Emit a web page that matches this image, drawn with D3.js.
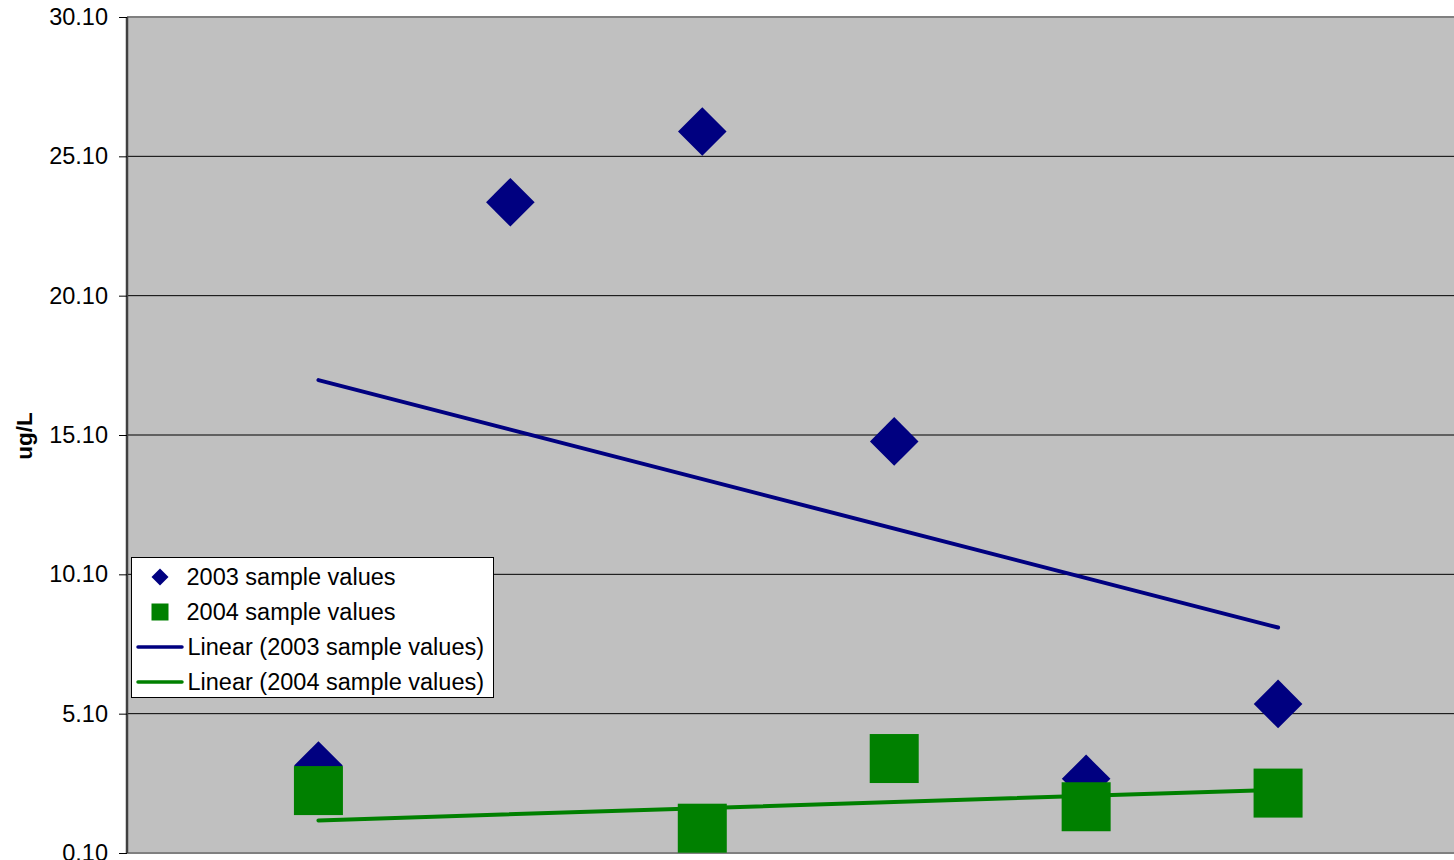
<!DOCTYPE html>
<html>
<head>
<meta charset="utf-8">
<script src="https://cdn.jsdelivr.net/npm/d3@7"></script>
<style>
  html, body { margin: 0; padding: 0; background: #ffffff; }
  svg { display: block; font-family: "Liberation Sans", Arial, sans-serif; }
</style>
</head>
<body>
<svg id="chart" width="1454" height="860"></svg>
<script>
// ---- data ----
const xValues = [1, 2, 3, 4, 5, 6];
const values2003 = [3.24, 23.45, 25.99, 14.87, 2.76, 5.45];
const values2004 = [2.34, null, 0.99, 3.49, 1.76, 2.25];
const trendX = [1, 6];
const trend2003 = [17.07, 8.19];
const trend2004 = [1.27, 2.37];
const yTicks = [0.10, 5.10, 10.10, 15.10, 20.10, 25.10, 30.10];
const seriesNames = ["2003 sample values", "2004 sample values",
                     "Linear (2003 sample values)", "Linear (2004 sample values)"];
const yTitle = "ug/L";

// ---- layout ----
const plot = { left: 127, top: 17, right: 1454, bottom: 853 };
const navy = "#000080", green = "#008000";

const svg = d3.select("#chart");
const x = d3.scaleLinear().domain([0, 7]).range([126.5, 1470]);
const y = d3.scaleLinear().domain([0.1, 30.1]).range([plot.bottom, plot.top]);

svg.append("defs").append("clipPath").attr("id", "clip")
  .append("rect")
  .attr("x", plot.left).attr("y", plot.top)
  .attr("width", plot.right - plot.left).attr("height", plot.bottom - plot.top);

// plot background
svg.append("rect")
  .attr("x", plot.left).attr("y", plot.top)
  .attr("width", plot.right - plot.left).attr("height", plot.bottom - plot.top)
  .attr("fill", "#c0c0c0");

// gridlines
svg.append("g").selectAll("line")
  .data(yTicks.slice(1, -1))
  .join("line")
  .attr("x1", plot.left).attr("x2", plot.right)
  .attr("y1", d => y(d)).attr("y2", d => y(d))
  .attr("stroke", "#000").attr("stroke-width", 1);

// top border
svg.append("line")
  .attr("x1", plot.left).attr("x2", plot.right)
  .attr("y1", y(30.1)).attr("y2", y(30.1))
  .attr("stroke", "#808080").attr("stroke-width", 2);

// bottom border
svg.append("line")
  .attr("x1", plot.left).attr("x2", plot.right)
  .attr("y1", y(0.1)).attr("y2", y(0.1))
  .attr("stroke", "#808080").attr("stroke-width", 2);

// y axis
const yAxis = d3.axisLeft(y)
  .tickValues(yTicks)
  .tickFormat(d => d.toFixed(2))
  .tickSize(8)
  .tickPadding(11);
const ga = svg.append("g")
  .attr("transform", `translate(${plot.left},0)`)
  .call(yAxis);
ga.select(".domain").attr("stroke", "#404040").attr("stroke-width", 2.5)
  .attr("d", `M0,${plot.top}V${plot.bottom}`);
ga.selectAll(".tick line").attr("stroke", "#000").attr("stroke-width", 1);
ga.selectAll(".tick text")
  .attr("font-size", 23.5)
  .attr("font-family", "'Liberation Sans', Arial, sans-serif")
  .attr("fill", "#000");

// y axis title
svg.append("text")
  .attr("transform", `translate(32,436) rotate(-90)`)
  .attr("text-anchor", "middle")
  .attr("font-size", 22.5)
  .attr("font-weight", "bold")
  .attr("fill", "#000")
  .text(yTitle);

const plotG = svg.append("g").attr("clip-path", "url(#clip)");

// 2003 diamonds
const R = 24.3;
plotG.append("g").selectAll("path")
  .data(xValues.map((xv, i) => ({ x: xv, v: values2003[i] })).filter(d => d.v != null))
  .join("path")
  .attr("d", d => {
    const cx = x(d.x), cy = y(d.v);
    return `M${cx},${cy - R}L${cx + R},${cy}L${cx},${cy + R}L${cx - R},${cy}Z`;
  })
  .attr("fill", navy);

// 2004 squares
const S = 49;
plotG.append("g").selectAll("rect")
  .data(xValues.map((xv, i) => ({ x: xv, v: values2004[i] })).filter(d => d.v != null))
  .join("rect")
  .attr("x", d => x(d.x) - S / 2)
  .attr("y", d => y(d.v) - S / 2)
  .attr("width", S).attr("height", S)
  .attr("fill", green);

// trendlines
const line = d3.line().x(d => x(d[0])).y(d => y(d[1]));
plotG.append("path")
  .attr("d", line(trendX.map((xv, i) => [xv, trend2003[i]])))
  .attr("fill", "none").attr("stroke", navy)
  .attr("stroke-width", 4).attr("stroke-linecap", "round");
plotG.append("path")
  .attr("d", line(trendX.map((xv, i) => [xv, trend2004[i]])))
  .attr("fill", "none").attr("stroke", green)
  .attr("stroke-width", 4).attr("stroke-linecap", "round");

// legend
const lg = svg.append("g");
lg.append("rect")
  .attr("x", 131.5).attr("y", 557.5)
  .attr("width", 362).attr("height", 140)
  .attr("fill", "#fff").attr("stroke", "#000").attr("stroke-width", 1);

const rowY = i => 577 + i * 35;
{
  const cx = 160, cy = rowY(0), r = 8.5;
  lg.append("path")
    .attr("d", `M${cx},${cy - r}L${cx + r},${cy}L${cx},${cy + r}L${cx - r},${cy}Z`)
    .attr("fill", navy);
}
lg.append("rect")
  .attr("x", 160 - 8.5).attr("y", rowY(1) - 8.5)
  .attr("width", 17).attr("height", 17)
  .attr("fill", green);
[navy, green].forEach((c, k) => {
  lg.append("line")
    .attr("x1", 138).attr("x2", 182)
    .attr("y1", rowY(2 + k)).attr("y2", rowY(2 + k))
    .attr("stroke", c).attr("stroke-width", 3.5).attr("stroke-linecap", "round");
});
lg.selectAll("text.lt")
  .data(seriesNames)
  .join("text")
  .attr("class", "lt")
  .attr("x", (d, i) => i < 2 ? 186.5 : 187.5)
  .attr("y", (d, i) => rowY(i) + 8)
  .attr("font-size", 23.5)
  .attr("fill", "#000")
  .text(d => d);
</script>
</body>
</html>
